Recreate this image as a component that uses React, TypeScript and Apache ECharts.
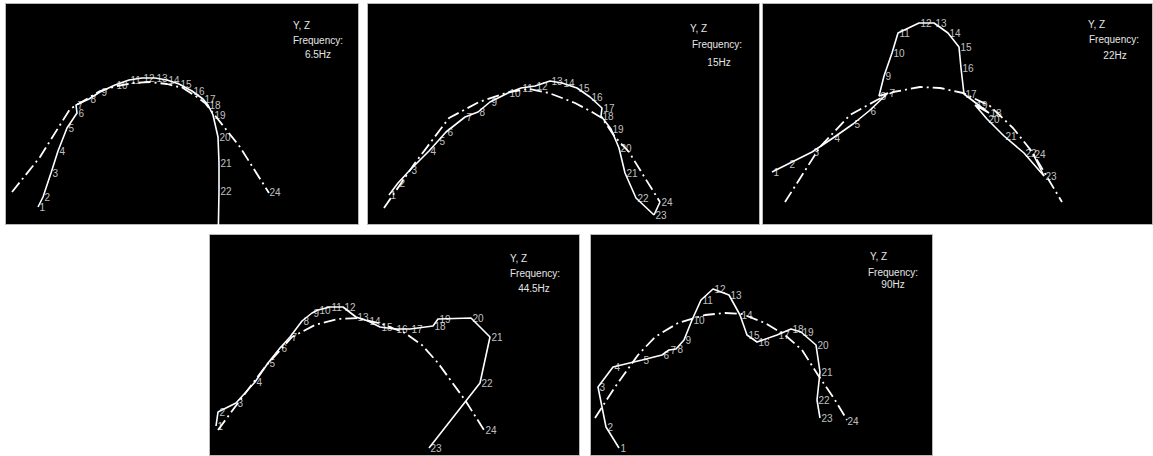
import React, { useEffect, useRef } from "react";
import * as echarts from "echarts";

// ---------- data (panel-local coordinates) ----------
const nodeLabels = ["1","2","3","4","5","6","7","8","9","10","11","12","13","14","15","16","17","18","19","20","21","22","23","24"];
const frequencies = ["6.5Hz", "15Hz", "22Hz", "44.5Hz", "90Hz"];
const axisTitle = "Y, Z";
const freqTitle = "Frequency:";

const p1Undeformed = [[7,189],[35,154],[65,106],[95,88],[112,83],[128,80],[145,79],[162,81],[178,85],[192,94],[200,100],[208,110],[235,144],[264,190]];
const p1Deformed = [[33,204],[38,194],[46,170],[53,148],[62,125],[72,110],[71,102],[84,96],[95,89],[110,82],[124,77],[137,75],[150,75],[162,77],[174,81],[187,88],[198,96],[203,102],[208,112],[213,134],[214,160],[214,188],[213,244],[263,189]];

const p2Undeformed = [[17,205],[48,160],[82,115],[112,99],[142,89],[162,86],[182,90],[208,100],[225,109],[235,115],[248,134],[262,149],[278,175],[293,199]];
const p2Deformed = [[22,192],[31,180],[43,167],[62,148],[71,138],[79,129],[98,114],[111,109],[123,99],[141,90],[154,85],[168,83],[183,78],[195,80],[210,85],[223,94],[235,105],[234,113],[244,126],[252,145],[258,170],[269,195],[287,212],[293,199]];

const p3Undeformed = [[23,199],[58,144],[88,112],[115,97],[131,89],[158,84],[178,85],[201,90],[228,103],[251,125],[271,150],[285,174],[300,199]];
const p3Deformed = [[10,169],[26,161],[50,149],[71,135],[91,121],[107,108],[126,90],[117,93],[122,73],[130,50],[136,30],[157,20],[172,20],[186,30],[197,44],[199,65],[202,91],[227,110],[213,102],[225,116],[242,133],[262,150],[282,173],[271,151]];

const p4Undeformed = [[9,196],[29,169],[56,133],[83,103],[106,91],[129,85],[149,84],[173,90],[196,99],[213,111],[229,129],[256,166],[275,196]];
const p4Deformed = [[7,192],[9,178],[27,169],[46,148],[59,129],[71,114],[81,103],[93,87],[103,79],[109,76],[121,73],[134,73],[147,83],[159,87],[171,93],[186,95],[201,95],[224,92],[229,85],[262,84],[281,103],[271,149],[220,214],[275,196]];

const p5Undeformed = [[5,184],[25,153],[48,121],[65,103],[88,89],[115,81],[135,79],[152,80],[175,89],[195,101],[212,116],[228,141],[245,166],[257,186]];
const p5Deformed = [[29,214],[16,193],[8,153],[23,133],[52,126],[72,121],[79,116],[86,115],[94,106],[102,86],[111,66],[123,55],[139,61],[150,81],[157,101],[167,108],[187,101],[201,95],[211,98],[226,111],[230,138],[227,166],[230,184],[256,187]];

// whether the last node (24) is joined to node 23 in each panel
const lastLinkDrawn = [false, true, true, false, false];

// ---------- layout ----------
const W = 1153;
const H = 456;
const panels = [
  { x: 5, y: 3, w: 354, h: 222, yz: [288, 22], fq: [313, 37], hz: [313, 51] },
  { x: 367, y: 3, w: 393, h: 222, yz: [323, 25], fq: [350, 41], hz: [352, 59] },
  { x: 762, y: 3, w: 391, h: 222, yz: [326, 21], fq: [352, 36], hz: [353, 52] },
  { x: 209, y: 234, w: 371, h: 222, yz: [301, 24], fq: [326, 39], hz: [325, 54] },
  { x: 590, y: 234, w: 343, h: 222, yz: [280, 22], fq: [303, 38], hz: [303, 50] },
];
const undeformedSets = [p1Undeformed, p2Undeformed, p3Undeformed, p4Undeformed, p5Undeformed];
const deformedSets = [p1Deformed, p2Deformed, p3Deformed, p4Deformed, p5Deformed];

const FONT = "'Liberation Sans', Arial, sans-serif";
const TXT = "#e6e6e6";

function buildOption() {
  const grid: any[] = [];
  const xAxis: any[] = [];
  const yAxis: any[] = [];
  const series: any[] = [];
  const graphic: any[] = [];

  panels.forEach((p, i) => {
    graphic.push({
      type: "rect",
      z: -10,
      shape: { x: p.x + 0.5, y: p.y + 0.5, width: p.w - 1, height: p.h - 1 },
      style: { fill: "#000", stroke: "#b8b8b8", lineWidth: 1 },
    });
    graphic.push({
      type: "text", z: 50, x: p.x + p.yz[0], y: p.y + p.yz[1],
      style: { text: axisTitle, fill: TXT, font: `10px ${FONT}`, align: "left", verticalAlign: "middle" },
    });
    graphic.push({
      type: "text", z: 50, x: p.x + p.fq[0], y: p.y + p.fq[1],
      style: { text: freqTitle, fill: TXT, font: `10px ${FONT}`, align: "center", verticalAlign: "middle" },
    });
    graphic.push({
      type: "text", z: 50, x: p.x + p.hz[0], y: p.y + p.hz[1],
      style: { text: frequencies[i], fill: TXT, font: `10px ${FONT}`, align: "center", verticalAlign: "middle" },
    });

    grid.push({ left: p.x, top: p.y, width: p.w, height: p.h, show: false });
    xAxis.push({ type: "value", gridIndex: i, min: 0, max: p.w, show: false });
    yAxis.push({ type: "value", gridIndex: i, min: 0, max: p.h, inverse: true, show: false });

    const und = undeformedSets[i];
    const def = deformedSets[i];

    series.push({
      type: "line", xAxisIndex: i, yAxisIndex: i, clip: true,
      data: und, showSymbol: false, symbol: "none", silent: true,
      lineStyle: { color: "#ffffff", width: 1.8, type: [12, 4, 2, 4] },
    });
    series.push({
      type: "line", xAxisIndex: i, yAxisIndex: i, clip: true,
      data: def.slice(0, 23), showSymbol: false, symbol: "none", silent: true,
      lineStyle: { color: "#ffffff", width: 1.6 },
    });
    if (lastLinkDrawn[i]) {
      series.push({
        type: "line", xAxisIndex: i, yAxisIndex: i, clip: true,
        data: def.slice(22, 24), showSymbol: false, symbol: "none", silent: true,
        lineStyle: { color: "#ffffff", width: 1.6 },
      });
    }
    series.push({
      type: "scatter", xAxisIndex: i, yAxisIndex: i, clip: true, silent: true,
      symbol: "circle", symbolSize: 1,
      itemStyle: { color: "rgba(0,0,0,0)" },
      data: def.map((pt, k) => ({ value: pt, name: nodeLabels[k] })),
      label: {
        show: true, position: "right", distance: 1,
        formatter: (d: any) => d.name,
        color: "#f2f2f2", fontSize: 10, fontFamily: FONT, textBorderWidth: 0,
      },
    });
  });

  return {
    animation: false,
    backgroundColor: "#ffffff",
    grid, xAxis, yAxis, series, graphic,
  };
}

export default function App() {
  const ref = useRef<HTMLDivElement>(null);
  useEffect(() => {
    if (!ref.current) return;
    const chart = echarts.init(ref.current, undefined, { renderer: "svg", width: W, height: H });
    chart.setOption(buildOption() as any);
    return () => chart.dispose();
  }, []);
  return (
    <div
      ref={ref}
      style={{ position: "absolute", left: 0, top: 0, width: W, height: H, background: "#fff" }}
    />
  );
}
